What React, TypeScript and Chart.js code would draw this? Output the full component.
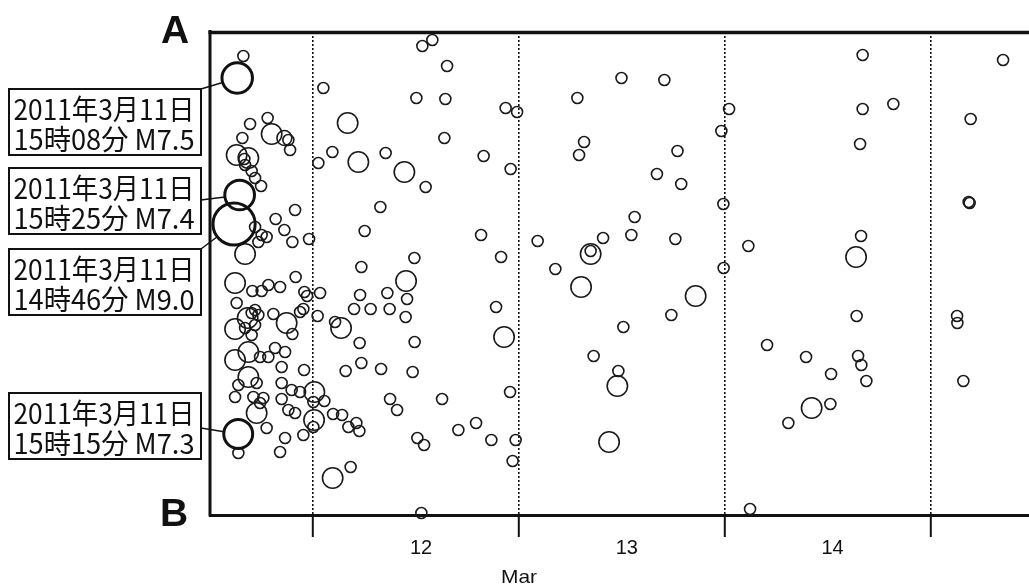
import { useEffect, useRef } from "react";
import { Chart, registerables } from "chart.js";

Chart.register(...registerables);

// Time axis: minutes elapsed since 2011-03-11 00:00 (JST)
// Position axis: distance in km from end A along the A–B section
const mainTime = [886, 908, 925, 915];
const mainDist = [192, 46, 163, 402];
const mainMag = [9.0, 7.5, 7.4, 7.3];
const mainDateLabel = "2011年3月11日";

const aftTime = [
  951, 998, 1121, 1149, 1238, 1266, 1278, 944, 904, 986,
  958, 963, 1009, 1033, 1075, 1313, 1177, 1238, 1294, 1411,
  1079, 1114, 1056, 1033, 963, 893, 1014, 1079, 1126, 1208,
  1317, 1378, 1397, 1488, 904, 1033, 1009, 1056, 981, 1161,
  1254, 1348, 1371, 1471, 893, 963, 1033, 1009, 1294, 893,
  986, 1068, 1126, 1173, 1243, 1219, 1376, 986, 916, 1044,
  1219, 893, 1021, 1091, 1068, 1219, 1289, 1348, 1266, 1313,
  1044, 1114, 1243, 1208, 916, 1371, 1446, 1441, 1448, 1518,
  1441, 1579, 1642, 1742, 1686, 1763, 2148, 1777, 2755, 2090,
  1959, 1768, 2097, 1726, 1842, 1975, 2087, 1593, 1635, 1765,
  2150, 2720, 2776, 1777, 1667, 1915, 2136, 2818, 2342, 1978,
  2027, 2580, 2456, 2687, 2857, 2169, 2216, 2836, 1702, 1576,
  2197, 2204, 2274, 2377, 2162, 2365, 2358, 1681, 1574, 1476,
  1756, 1947, 2078, 2227, 1910, 1800, 2633, 2787, 2867, 2822,
  2615, 3011, 1511, 3289, 3598, 3898, 3336, 3301, 3990, 3846,
  4016, 4351, 4297, 5286, 5286, 5501, 5268, 6269, 6042, 4311,
  3135, 3382, 3382, 3469, 3690, 3667, 3975, 4486, 3315, 4313,
  4117, 3947, 3611, 4617, 3403, 3576, 3569, 3511, 4498, 6035,
  6028, 5275, 5240, 5244, 5947, 5949, 4890, 5065, 5254, 5277,
  5312, 5991, 4929, 5060, 4766,
];

const aftDist = [
  24, 92, 86, 102, 106, 108, 118, 106, 123, 126,
  127, 133, 139, 146, 154, 178, 187, 198, 210, 207,
  203, 205, 210, 195, 222, 251, 259, 259, 253, 255,
  245, 260, 264, 261, 271, 278, 281, 283, 286, 282,
  291, 280, 277, 284, 297, 296, 293, 303, 302, 328,
  320, 325, 325, 316, 320, 335, 338, 345, 353, 351,
  351, 365, 365, 366, 371, 367, 358, 360, 378, 381,
  381, 396, 406, 420, 421, 403, 388, 395, 360, 369,
  370, 382, 383, 391, 395, 399, 226, 235, 225, 249,
  261, 263, 267, 277, 277, 277, 285, 290, 296, 311,
  310, 275, 305, 331, 339, 337, 340, 360, 367, 367,
  378, 391, 398, 408, 408, 406, 413, 429, 435, 446,
  481, 14, 8, 34, 66, 67, 106, 91, 120, 131,
  130, 121, 140, 155, 175, 199, 124, 76, 80, 137,
  203, 209, 56, 66, 46, 48, 110, 123, 119, 142,
  152, 77, 99, 23, 77, 72, 112, 28, 87, 172,
  237, 222, 219, 206, 185, 203, 207, 214, 255, 236,
  264, 283, 295, 313, 324, 339, 354, 410, 477, 171,
  170, 204, 225, 284, 284, 291, 325, 342, 324, 333,
  349, 349, 376, 372, 391,
];

const aftMag = [
  5.0, 5.0, 5.0, 6.2, 5.5, 5.0, 5.0, 5.0, 6.2, 6.2,
  5.0, 5.0, 5.0, 5.0, 5.0, 5.0, 5.0, 5.0, 5.0, 5.0,
  5.0, 5.0, 5.0, 5.0, 6.2, 6.2, 5.0, 5.0, 5.0, 5.0,
  5.0, 5.0, 5.0, 5.0, 5.0, 5.0, 5.0, 5.0, 6.2, 5.0,
  6.2, 5.0, 5.0, 5.0, 6.2, 5.0, 5.0, 5.0, 5.0, 6.2,
  6.2, 5.0, 5.0, 5.0, 5.0, 5.0, 5.0, 6.2, 5.0, 5.0,
  5.0, 5.0, 5.0, 5.0, 5.0, 5.0, 5.0, 5.0, 5.0, 5.0,
  6.2, 5.0, 5.0, 5.0, 5.0, 5.0, 6.2, 5.0, 6.2, 5.0,
  5.0, 5.0, 5.0, 5.0, 5.0, 5.0, 5.0, 5.0, 5.0, 6.2,
  5.0, 5.0, 5.0, 5.0, 5.0, 5.0, 5.0, 5.0, 6.2, 5.0,
  5.0, 5.0, 6.2, 5.0, 5.0, 5.0, 5.0, 5.0, 5.0, 5.0,
  5.0, 5.0, 5.0, 5.0, 5.0, 5.0, 5.0, 5.0, 5.0, 6.2,
  5.0, 5.0, 5.0, 5.0, 5.0, 5.0, 5.0, 6.2, 5.0, 5.0,
  6.2, 5.0, 6.2, 5.0, 5.0, 5.0, 5.0, 5.0, 5.0, 5.0,
  5.0, 5.0, 5.0, 5.0, 5.0, 5.0, 5.0, 5.0, 5.0, 5.0,
  5.0, 5.0, 5.0, 5.0, 5.0, 5.0, 5.0, 5.0, 5.0, 5.0,
  5.0, 6.2, 5.0, 5.0, 5.0, 5.0, 5.0, 5.0, 6.2, 5.0,
  6.2, 5.0, 5.0, 5.0, 5.0, 5.0, 6.2, 6.2, 5.0, 5.0,
  5.0, 5.0, 6.2, 5.0, 5.0, 5.0, 5.0, 5.0, 5.0, 5.0,
  5.0, 5.0, 6.2, 5.0, 5.0,
];

// Axis ticks
const dayBoundaryTicks = [1440, 2880, 4320, 5760];
const dayLabelTicks = [2160, 3600, 5040];
const dayLabels = ["12", "13", "14"];
const monthLabel = "Mar";
const endLabelTop = "A";
const endLabelBottom = "B";
const timeRange = [717.5, 6450.5];
const distRange = [0, 483];

// ---- styles / layout (not data) ----
const INK = "#111";
const LATIN = "'Liberation Sans', Arial, sans-serif";
const CJK = "'Noto Sans CJK JP', 'Noto Sans', sans-serif";
const boxLayout = [
  { top: 249, anchor: 0 },
  { top: 89, anchor: 0 },
  { top: 168, anchor: 32 },
  { top: 393, anchor: 35 },
];
const BOX_LEFT = 9;
const BOX_RIGHT = 201;
const BOX_H = 66;

const radiusOf = (m: number) => 5.5 + 3.9 * (m - 5);

function fitText(ctx: CanvasRenderingContext2D, text: string, x: number, y: number, w: number) {
  const m = ctx.measureText(text).width;
  ctx.save();
  ctx.translate(x, y);
  ctx.scale(w / m, 1);
  ctx.fillText(text, 0, 0);
  ctx.restore();
}

const framePlugin = {
  id: "framePlugin",
  afterDraw(chart: any) {
    const { ctx, chartArea: a, scales } = chart;
    ctx.save();
    ctx.strokeStyle = INK;
    // top and left frame lines
    ctx.lineWidth = 3.5;
    ctx.beginPath();
    ctx.moveTo(a.left - 1.5, a.top + 0.5);
    ctx.lineTo(a.right, a.top + 0.5);
    ctx.stroke();
    ctx.lineWidth = 3;
    ctx.beginPath();
    ctx.moveTo(a.left, a.top - 2);
    ctx.lineTo(a.left, a.bottom + 1.5);
    ctx.stroke();

    // A / B end labels
    ctx.fillStyle = INK;
    ctx.font = `bold 39px ${LATIN}`;
    ctx.textAlign = "center";
    ctx.textBaseline = "alphabetic";
    ctx.fillText(endLabelTop, 175, 43);
    ctx.fillText(endLabelBottom, 174, 526);

    // month label
    ctx.font = `19px ${LATIN}`;
    ctx.textAlign = "left";
    fitText(ctx, monthLabel, 501, 583, 36);

    // annotation boxes with connectors
    mainTime.forEach((t, i) => {
      const lay = boxLayout[i];
      const cx = scales.x.getPixelForValue(t);
      const cy = scales.y.getPixelForValue(mainDist[i]);
      const r = radiusOf(mainMag[i]);
      const ax = BOX_RIGHT;
      const ay = lay.top + lay.anchor;
      const dx = ax - cx;
      const dy = ay - cy;
      const d = Math.hypot(dx, dy);
      ctx.lineWidth = 1.5;
      ctx.strokeStyle = INK;
      ctx.beginPath();
      ctx.moveTo(ax, ay);
      ctx.lineTo(cx + (dx / d) * r, cy + (dy / d) * r);
      ctx.stroke();

      ctx.fillStyle = "#fff";
      ctx.fillRect(BOX_LEFT, lay.top, BOX_RIGHT - BOX_LEFT, BOX_H);
      ctx.lineWidth = 2;
      ctx.strokeRect(BOX_LEFT, lay.top, BOX_RIGHT - BOX_LEFT, BOX_H);

      const hh = Math.floor(t / 60);
      const mm = String(t % 60).padStart(2, "0");
      const line2 = `${hh}時${mm}分 M${mainMag[i].toFixed(1)}`;
      ctx.fillStyle = INK;
      ctx.font = `28px ${CJK}`;
      ctx.textAlign = "left";
      ctx.textBaseline = "alphabetic";
      fitText(ctx, mainDateLabel, 13.5, lay.top + 31, 181);
      fitText(ctx, line2, 13.5, lay.top + 61, 181);
    });
    ctx.restore();
  },
};

export default function App() {
  const ref = useRef<HTMLCanvasElement>(null);

  useEffect(() => {
    if (!ref.current) return;
    const isBoundary = (v: any) => dayBoundaryTicks.includes(v);
    const chart = new Chart(ref.current, {
      type: "bubble",
      data: {
        datasets: [
          {
            label: "main",
            data: mainTime.map((t, i) => ({ x: t, y: mainDist[i], r: radiusOf(mainMag[i]) })),
            backgroundColor: "rgba(0,0,0,0)",
            borderColor: INK,
            borderWidth: 3,
            clip: false,
          } as any,
          {
            label: "aftershocks",
            data: aftTime.map((t, i) => ({ x: t, y: aftDist[i], r: radiusOf(aftMag[i]) })),
            backgroundColor: "rgba(0,0,0,0)",
            borderColor: "#1a1a1a",
            borderWidth: 1.6,
            clip: false,
          } as any,
        ],
      },
      options: {
        animation: false,
        responsive: false,
        events: [],
        layout: { autoPadding: false, padding: { left: 210, top: 32, right: 0, bottom: 0 } },
        plugins: { legend: { display: false }, tooltip: { enabled: false } },
        scales: {
          x: {
            type: "linear",
            position: "bottom",
            min: timeRange[0],
            max: timeRange[1],
            afterBuildTicks: (s: any) => {
              s.ticks = [...dayBoundaryTicks, ...dayLabelTicks]
                .sort((a, b) => a - b)
                .map((v) => ({ value: v }));
            },
            afterFit: (s: any) => {
              s.height = 71;
            },
            ticks: {
              autoSkip: false,
              maxRotation: 0,
              padding: 0,
              labelOffset: 5,
              color: INK,
              font: { family: LATIN, size: 20, lineHeight: 1.1 },
              callback: (v: any) => {
                const i = dayLabelTicks.indexOf(v);
                return i >= 0 ? dayLabels[i] : "";
              },
            },
            grid: {
              color: (c: any) => (isBoundary(c.tick?.value) ? INK : "rgba(0,0,0,0)"),
              lineWidth: 1.6,
              tickLength: 22,
              tickWidth: 2,
              tickColor: (c: any) => (isBoundary(c.tick?.value) ? INK : "rgba(0,0,0,0)"),
            },
            border: { display: true, color: INK, width: 3, dash: [2, 2] },
          } as any,
          y: {
            type: "linear",
            display: false,
            reverse: true,
            min: distRange[0],
            max: distRange[1],
          },
        },
      },
      plugins: [framePlugin],
    });
    return () => chart.destroy();
  }, []);

  return (
    <div style={{ position: "fixed", left: 0, top: 0, width: 1029, height: 586, background: "#fff" }}>
      <canvas ref={ref} width={1029} height={586} style={{ display: "block" }} />
    </div>
  );
}
